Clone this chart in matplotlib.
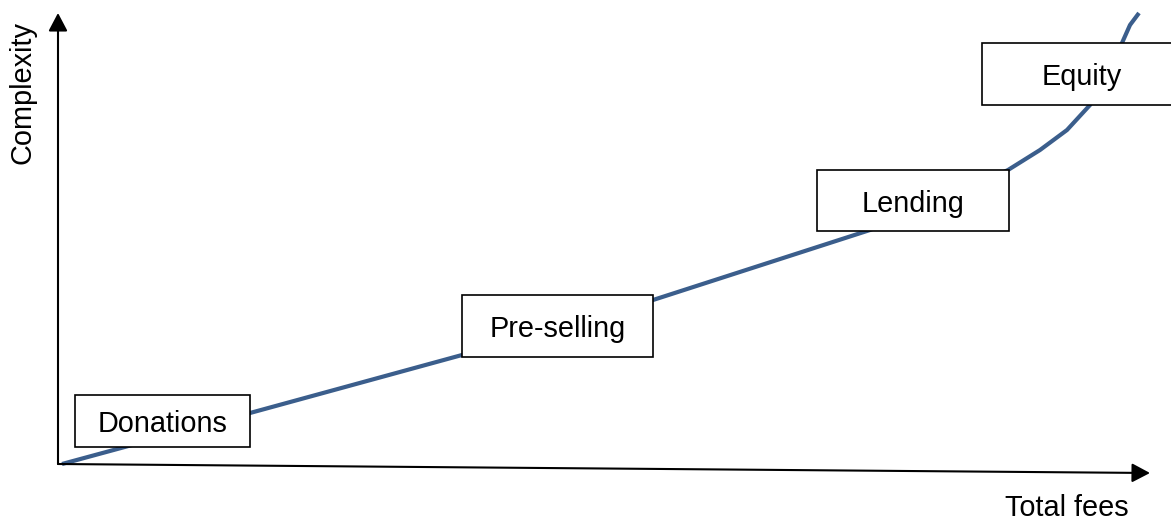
import numpy as np
import matplotlib.pyplot as plt
from matplotlib.patches import Rectangle

plt.rcParams['font.family'] = ['Liberation Sans', 'DejaVu Sans']

# curve (fees, complexity) with origin at the axis corner
fees = [4, 192, 404, 595, 812, 882, 950, 982, 1009, 1032, 1048, 1064, 1072, 1081]
complexity = [0, 51, 109, 164, 234, 262, 294, 314, 334, 359, 388, 421, 439, 451]

# stages: label, left, bottom, width, height
stages = ['Donations', 'Pre-selling', 'Lending', 'Equity']
box_x = [17, 404, 759, 924]
box_y = [17, 107, 233, 359]
box_w = [175, 191, 192, 200]
box_h = [52, 62, 61, 62]

line_color = '#3b5e8c'

fig = plt.figure(figsize=(11.71, 5.2), dpi=100)
ax = fig.add_axes([0, 0, 1, 1])
ax.set_xlim(-58, 1113)
ax.set_ylim(-56, 464)
ax.axis('off')

# axes as arrows
arrow = dict(arrowstyle='-|>,head_length=0.55,head_width=0.29', color='black',
             lw=1.5, shrinkA=0, shrinkB=0, mutation_scale=20)
ax.annotate('', xy=(1092, -9), xytext=(0, 0), arrowprops=arrow)
ax.annotate('', xy=(0, 451), xytext=(0, 0), arrowprops=arrow)

ax.plot(fees, complexity, color=line_color, lw=3, solid_capstyle='butt',
        solid_joinstyle='round', zorder=2)

for name, x, y, w, h in zip(stages, box_x, box_y, box_w, box_h):
    ax.add_patch(Rectangle((x, y), w, h, facecolor='white', edgecolor='black',
                           lw=1.2, zorder=3, clip_on=False))
    ax.text(x + w / 2, y + h / 2, name, ha='center', va='center_baseline',
            fontsize=20.8, zorder=4)

ax.text(-36, 372, 'Complexity', rotation=90, ha='center', va='center', fontsize=20.8)
ax.text(1009, -44, 'Total fees', ha='center', va='center', fontsize=20.8)

fig.savefig('out.png', dpi=100)
